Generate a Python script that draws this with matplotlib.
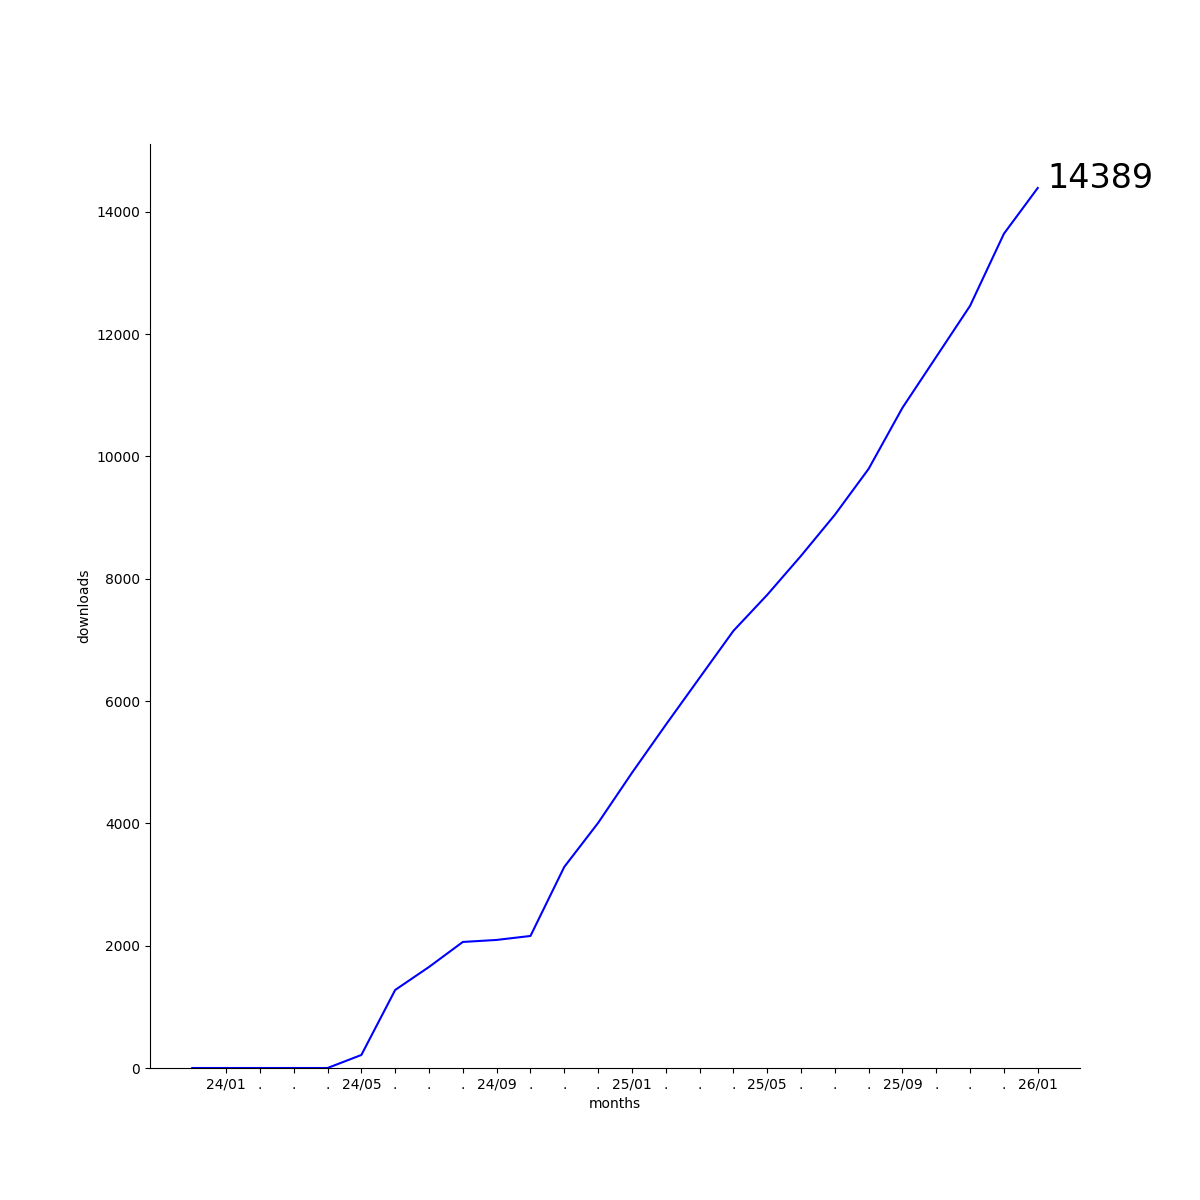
import matplotlib
matplotlib.use("Agg")
import matplotlib.pyplot as plt

months = ["23/12", "24/01", "24/02", "24/03", "24/04", "24/05", "24/06", "24/07", "24/08",
          "24/09", "24/10", "24/11", "24/12", "25/01", "25/02", "25/03", "25/04", "25/05",
          "25/06", "25/07", "25/08", "25/09", "25/10", "25/11", "25/12", "26/01"]
downloads = [0, 0, 0, 0, 0, 213, 1276, 1652, 2061, 2094, 2159, 3288, 4007, 4825, 5610,
             6379, 7147, 7736, 8374, 9045, 9797, 10795, 11629, 12463, 13641, 14389]
tick_months = months[1:]
tick_labels = [m if i % 4 == 0 else "." for i, m in enumerate(tick_months)]

fig, ax = plt.subplots(figsize=(12, 12), dpi=100)
x = list(range(len(months)))
ax.plot(x, downloads, color="blue")
ax.set_ylim(bottom=0)
ax.set_xticks(x[1:])
ax.set_xticklabels(tick_labels)
ax.spines["top"].set_visible(False)
ax.spines["right"].set_visible(False)
ax.set_xlabel("months")
ax.set_ylabel("downloads")
ax.text(x[-1] + 0.3, downloads[-1], str(downloads[-1]), fontsize=24)
fig.savefig("out.png")
